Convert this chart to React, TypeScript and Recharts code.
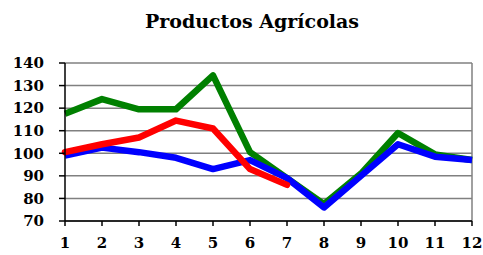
import React from "react"
import { LineChart, Line, XAxis, YAxis, CartesianGrid, ReferenceLine } from "recharts"

const months = [1, 2, 3, 4, 5, 6, 7, 8, 9, 10, 11, 12]
const green = [117.5, 124, 119.5, 119.5, 134.5, 100.5, 89, 77.5, 91, 109, 99.5, 97]
const red = [100.5, 104, 107, 114.5, 111, 93, 86, null, null, null, null, null]
const blue = [99, 102.5, 100.5, 98, 93, 97, 89, 76, 90, 104, 98.5, 97]
const yTicks = [70, 80, 90, 100, 110, 120, 130, 140]

const data = months.map((m, i) => ({ m, green: green[i], red: red[i], blue: blue[i] }))

const font = "'DejaVu Serif', 'Liberation Serif', serif"

export default function App() {
  return (
    <div style={{ position: "absolute", left: 0, top: 0, width: 483, height: 255, background: "#fff" }}>
      <div
        style={{
          position: "absolute",
          top: 10,
          left: 0,
          width: 504,
          textAlign: "center",
          fontFamily: font,
          fontWeight: "bold",
          fontSize: 19,
          color: "#000",
        }}
      >
        Productos Agrícolas
      </div>
      <LineChart width={483} height={255} data={data} margin={{ top: 63, right: 11, bottom: 0, left: 0 }}>
        <CartesianGrid vertical={false} stroke="#808080" strokeWidth={1.5} />
        <ReferenceLine x={12} stroke="#808080" strokeWidth={1.5} />
        <XAxis
          dataKey="m"
          type="number"
          domain={[1, 12]}
          ticks={months}
          interval={0}
          height={34}
          stroke="#000"
          strokeWidth={1.5}
          tickSize={5}
          tickMargin={11}
          tick={{ fill: "#000", fontSize: 15, fontFamily: font, fontWeight: "bold" }}
        />
        <YAxis
          domain={[70, 140]}
          ticks={yTicks}
          interval={0}
          width={65}
          stroke="#000"
          strokeWidth={1.5}
          tickSize={6}
          tickMargin={15}
          tick={{ fill: "#000", fontSize: 15, fontFamily: font, fontWeight: "bold" }}
        />
        <Line dataKey="green" stroke="#008000" strokeWidth={6.5} dot={false} isAnimationActive={false} strokeLinejoin="round" />
        <Line dataKey="blue" stroke="#0000ff" strokeWidth={6.5} dot={false} isAnimationActive={false} strokeLinejoin="round" />
        <Line dataKey="red" stroke="#ff0000" strokeWidth={6.5} dot={false} isAnimationActive={false} strokeLinejoin="round" strokeLinecap="round" />
      </LineChart>
    </div>
  )
}
